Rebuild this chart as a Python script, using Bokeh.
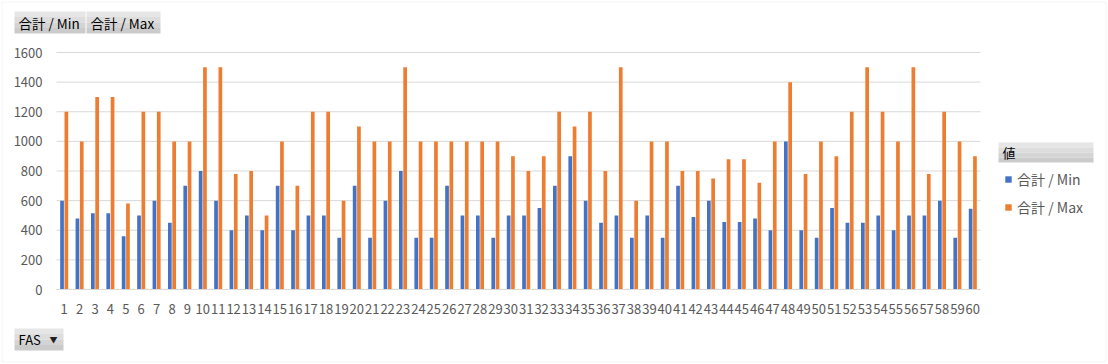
from bokeh.plotting import figure
from bokeh.models import (Range1d, FixedTicker, Label, Legend, LegendItem,
                          BoxAnnotation, ColumnDataSource)
from bokeh.embed import file_html
from bokeh.resources import INLINE

categories = list(range(1, 61))
min_values = [600, 480, 515, 515, 360, 500, 600, 450, 700, 800,
              600, 400, 500, 400, 700, 400, 500, 500, 350, 700,
              350, 600, 800, 350, 350, 700, 500, 500, 350, 500,
              500, 550, 700, 900, 600, 450, 500, 350, 500, 350,
              700, 490, 600, 455, 455, 480, 400, 1000, 400, 350,
              550, 450, 450, 500, 400, 500, 500, 600, 350, 545]
max_values = [1200, 1000, 1300, 1300, 580, 1200, 1200, 1000, 1000, 1500,
              1500, 780, 800, 500, 1000, 700, 1200, 1200, 600, 1100,
              1000, 1000, 1500, 1000, 1000, 1000, 1000, 1000, 1000, 900,
              800, 900, 1200, 1100, 1200, 800, 1500, 600, 1000, 1000,
              800, 800, 750, 880, 880, 720, 1000, 1400, 780, 1000,
              900, 1200, 1500, 1200, 1000, 1500, 780, 1200, 1000, 900]
y_ticks = [0, 200, 400, 600, 800, 1000, 1200, 1400, 1600]
series_names = ["合計 / Min", "合計 / Max"]
field_name = "FAS"
legend_title = "値"

FONT = "Noto Sans CJK JP"
GRID = "#d9d9d9"
TXT = "#595959"

W, H = 1108, 364
# plot area in canvas pixels
PL, PR, PT, PB = 56, 980, 52, 289
x_lo, x_hi = categories[0] - 0.5, categories[-1] + 0.5
y_lo, y_hi = y_ticks[0], y_ticks[-1]
xs = (PR - PL) / (x_hi - x_lo)
ys = (PB - PT) / (y_hi - y_lo)

p = figure(width=W, height=H, output_backend="svg", toolbar_location=None,
           x_range=Range1d(x_lo - PL / xs, x_hi + (W - PR) / xs),
           y_range=Range1d(y_lo - (H - PB) / ys, y_hi + PT / ys),
           min_border=0, min_border_left=0, min_border_right=0,
           min_border_top=0, min_border_bottom=0)
p.outline_line_color = None
p.background_fill_color = "white"
p.border_fill_color = "white"
p.xgrid.grid_line_color = None
p.ygrid.grid_line_color = None

# horizontal gridlines across the plot area only
p.segment(x0=[x_lo] * len(y_ticks), x1=[x_hi] * len(y_ticks),
          y0=y_ticks, y1=y_ticks, line_color=GRID, line_width=1)

src = ColumnDataSource(dict(
    xmin=[c - 0.14 for c in categories],
    xmax=[c + 0.14 for c in categories],
    vmin=min_values, vmax=max_values))

r1 = p.vbar(x="xmin", top="vmin", width=0.24, source=src,
            fill_color="#4472C4", line_color=None)
r2 = p.vbar(x="xmax", top="vmax", width=0.24, source=src,
            fill_color="#ED7D31", line_color=None)

# axes drawn at fixed data locations inside the frame
p.xaxis.fixed_location = y_lo
p.xaxis.bounds = (x_lo, x_hi)
p.xaxis.ticker = FixedTicker(ticks=categories)
p.xaxis.major_tick_line_color = None
p.xaxis.major_tick_out = 0
p.xaxis.major_tick_in = 0
p.xaxis.minor_tick_line_color = None
p.xaxis.axis_line_color = GRID
p.xaxis.major_label_text_font = FONT
p.xaxis.major_label_text_font_size = "13px"
p.xaxis.major_label_text_color = TXT
p.xaxis.major_label_standoff = 14

p.yaxis.fixed_location = x_lo
p.yaxis.bounds = (y_lo, y_hi)
p.yaxis.ticker = FixedTicker(ticks=y_ticks)
p.yaxis.major_tick_line_color = None
p.yaxis.major_tick_out = 0
p.yaxis.major_tick_in = 0
p.yaxis.minor_tick_line_color = None
p.yaxis.axis_line_color = None
p.yaxis.major_label_text_font = FONT
p.yaxis.major_label_text_font_size = "13px"
p.yaxis.major_label_text_color = TXT
p.yaxis.major_label_standoff = 14

# legend
legend = Legend(items=[LegendItem(label=series_names[0], renderers=[r1]),
                       LegendItem(label=series_names[1], renderers=[r2])],
                location=(1004, H - 217), orientation="vertical",
                glyph_width=8, glyph_height=8, label_height=20,
                label_standoff=5, spacing=8, padding=0, margin=0,
                border_line_color=None, background_fill_alpha=0,
                label_text_font=FONT, label_text_font_size="14px",
                label_text_color=TXT)
p.add_layout(legend)

BANDS = ["#e6e6e6", "#dddddd", "#d4d4d4", "#cbcbcb"]

def button(text, x0, x1, y0, y1, tx, size="13px"):
    n = len(BANDS)
    h = (y1 - y0) / n
    for i, c in enumerate(BANDS):
        p.add_layout(BoxAnnotation(left=x0, right=x1,
                                   top=H - (y0 + i * h), bottom=H - (y0 + (i + 1) * h),
                                   left_units="screen", right_units="screen",
                                   top_units="screen", bottom_units="screen",
                                   fill_color=c, fill_alpha=1, line_color=None))
    p.add_layout(Label(x=tx, y=H - (y0 + y1) / 2, x_units="screen", y_units="screen",
                       text=text, text_font=FONT, text_font_size=size,
                       text_color="#000000", text_align="left",
                       text_baseline="middle"))

button(series_names[0], 14, 85, 11, 33, 18, "13.5px")
button(series_names[1], 86, 160, 11, 33, 90, "13.5px")
button(legend_title, 998, 1093, 142, 162, 1002)
button(field_name, 14, 63, 328, 350, 18)
p.add_layout(Label(x=49, y=H - 339, x_units="screen", y_units="screen", text="▼",
                   text_font=FONT, text_font_size="8px", text_color="#202020",
                   text_align="left", text_baseline="middle"))

# outer chart border
p.add_layout(BoxAnnotation(left=1.5, right=1105.5, top=H - 1.5, bottom=H - 361.5,
                           left_units="screen", right_units="screen",
                           top_units="screen", bottom_units="screen",
                           fill_alpha=0, line_color=GRID, line_width=1))

open("out.html", "w").write(file_html(p, INLINE))
